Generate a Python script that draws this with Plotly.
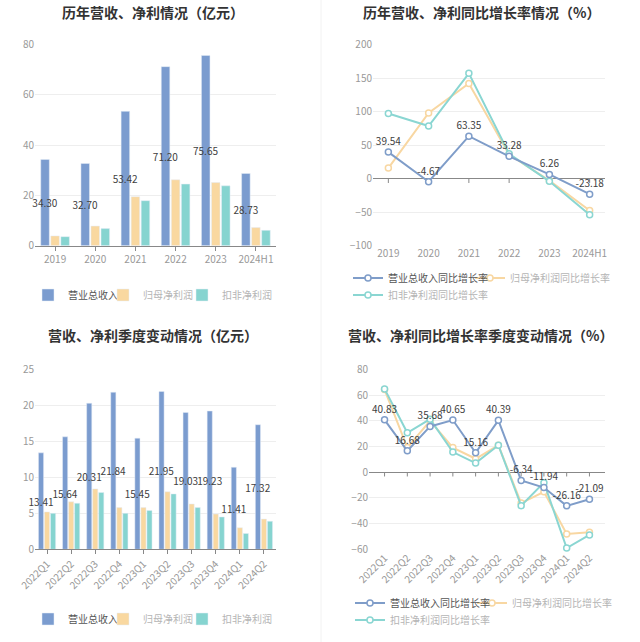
import plotly.graph_objects as go

# ---------------- data ----------------
years = ["2019", "2020", "2021", "2022", "2023", "2024H1"]
rev_year = [34.30, 32.70, 53.42, 71.20, 75.65, 28.73]
np_year = [3.9, 7.8, 19.5, 26.2, 25.1, 7.2]
nnp_year = [3.6, 6.8, 17.9, 24.5, 23.8, 6.1]

rev_yoy = [39.54, -4.67, 63.35, 33.28, 6.26, -23.18]
np_yoy = [15.7, 98.0, 142.0, 36.0, -3.0, -47.5]
nnp_yoy = [97.0, 78.5, 157.0, 37.0, -4.0, -54.0]

quarters = ["2022Q1", "2022Q2", "2022Q3", "2022Q4", "2023Q1",
            "2023Q2", "2023Q3", "2023Q4", "2024Q1", "2024Q2"]
rev_q = [13.41, 15.64, 20.31, 21.84, 15.45, 21.95, 19.03, 19.23, 11.41, 17.32]
np_q = [5.2, 6.6, 8.4, 5.8, 5.8, 8.0, 6.3, 4.9, 3.0, 4.2]
nnp_q = [5.0, 6.4, 7.9, 5.0, 5.4, 7.7, 5.8, 4.5, 2.2, 3.9]

rev_q_yoy = [40.83, 16.68, 35.68, 40.65, 15.16, 40.39, -6.34, -11.94, -26.16, -21.09]
np_q_yoy = [64.4, 19.2, 40.0, 19.2, 10.5, 21.0, -24.0, -15.2, -48.0, -46.7]
nnp_q_yoy = [64.9, 30.7, 41.3, 15.7, 7.1, 21.0, -26.0, -8.1, -59.0, -48.8]

titles = ["历年营收、净利情况（亿元）", "历年营收、净利同比增长率情况（%）",
          "营收、净利季度变动情况（亿元）", "营收、净利同比增长率季度变动情况（%）"]
bar_names = ["营业总收入", "归母净利润", "扣非净利润"]
line_names = ["营业总收入同比增长率", "归母净利润同比增长率", "扣非净利润同比增长率"]

# ---------------- style ----------------
FONT = "Noto Sans CJK SC"
C_REV = "#7b9ccf"
C_NP = "#f9d8a0"
C_NNP = "#86d4d0"
L_REV = "#7f9dc9"
L_NP = "#f8d7a2"
L_NNP = "#8ad6d2"
TXT = "#404040"
TICK = "#999999"
GRID = "#eeeeee"
AXIS = "#888888"
W, H = 640, 642


def px_x(p):
    return p / W


def px_y(p):
    return 1 - p / H


def leg_name(name, first):
    col = "#555555" if first else "#b5b5b5"
    return f"<span style='color:{col}'>{name}</span>"


fig = go.Figure()

bar_text = dict(texttemplate="%{y:.2f}", textposition="inside", insidetextanchor="middle",
                constraintext="none", textangle=0, cliponaxis=False,
                textfont=dict(family=FONT, color=TXT, size=10))

# ---------- panel 1: yearly bars ----------
fig.add_trace(go.Bar(x=years, y=rev_year, name=leg_name(bar_names[0], True), marker_color=C_REV,
                     xaxis="x", yaxis="y", legend="legend", **bar_text))
fig.add_trace(go.Bar(x=years, y=np_year, name=leg_name(bar_names[1], False), marker_color=C_NP,
                     xaxis="x", yaxis="y", legend="legend2"))
fig.add_trace(go.Bar(x=years, y=nnp_year, name=leg_name(bar_names[2], False), marker_color=C_NNP,
                     xaxis="x", yaxis="y", legend="legend3"))

# ---------- panel 3: quarterly bars ----------
fig.add_trace(go.Bar(x=quarters, y=rev_q, name=leg_name(bar_names[0], True), marker_color=C_REV,
                     xaxis="x3", yaxis="y3", legend="legend7", **bar_text))
fig.add_trace(go.Bar(x=quarters, y=np_q, name=leg_name(bar_names[1], False), marker_color=C_NP,
                     xaxis="x3", yaxis="y3", legend="legend8"))
fig.add_trace(go.Bar(x=quarters, y=nnp_q, name=leg_name(bar_names[2], False), marker_color=C_NNP,
                     xaxis="x3", yaxis="y3", legend="legend9"))


def line(x, y, name, color, xa, ya, leg, label=False):
    return go.Scatter(
        x=x, y=y, name=name, xaxis=xa, yaxis=ya, legend=leg,
        mode="lines+markers+text" if label else "lines+markers",
        texttemplate="%{y:.2f}" if label else None,
        textposition="top center", textfont=dict(family=FONT, color=TXT, size=10),
        line=dict(color=color, width=2),
        marker=dict(symbol="circle", size=6, color="white", line=dict(color=color, width=1.5)),
        cliponaxis=False,
    )


# ---------- panel 2: yearly growth ----------
fig.add_trace(line(years, np_yoy, leg_name(line_names[1], False), L_NP, "x2", "y2", "legend5"))
fig.add_trace(line(years, nnp_yoy, leg_name(line_names[2], False), L_NNP, "x2", "y2", "legend6"))
fig.add_trace(line(years, rev_yoy, leg_name(line_names[0], True), L_REV, "x2", "y2", "legend4", True))

# ---------- panel 4: quarterly growth ----------
fig.add_trace(line(quarters, np_q_yoy, leg_name(line_names[1], False), L_NP, "x4", "y4", "legend11"))
fig.add_trace(line(quarters, nnp_q_yoy, leg_name(line_names[2], False), L_NNP, "x4", "y4", "legend12"))
fig.add_trace(line(quarters, rev_q_yoy, leg_name(line_names[0], True), L_REV, "x4", "y4", "legend10", True))

tickfont = dict(family=FONT, size=10, color=TICK)

bar_x = dict(type="category", showgrid=False, showline=True, linecolor=AXIS, linewidth=1,
             ticks="outside", ticklen=4, tickcolor=AXIS, tickfont=tickfont, fixedrange=True,
             automargin=False)
line_x = dict(type="category", showgrid=False, showline=False, ticks="", tickfont=tickfont,
              fixedrange=True, automargin=False)
y_common = dict(showgrid=True, gridcolor=GRID, gridwidth=1, showline=False, ticks="",
                tickfont=tickfont, fixedrange=True, automargin=False)

TOP = [px_y(245.7), px_y(44.5)]
BOT = [px_y(549.3), px_y(369.5)]

legend_common = dict(orientation="h", bgcolor="rgba(0,0,0,0)", font=dict(family=FONT, size=10),
                     yanchor="middle", xanchor="left", itemclick=False, itemdoubleclick=False)

# legend positions: (text start x, centre y) in pixels
legend_pos = {
    "legend": (68, 295), "legend2": (143, 295), "legend3": (222, 295),
    "legend4": (388, 278), "legend5": (510, 278), "legend6": (388, 295),
    "legend7": (68, 619), "legend8": (143, 619), "legend9": (222, 619),
    "legend10": (390, 603), "legend11": (512, 603), "legend12": (390, 620),
}
legends = {k: dict(x=px_x(tx - 40), y=px_y(ty), **legend_common) for k, (tx, ty) in legend_pos.items()}

fig.update_layout(
    width=W, height=H, autosize=False,
    margin=dict(l=0, r=0, t=0, b=0, autoexpand=False),
    paper_bgcolor="white", plot_bgcolor="white",
    font=dict(family=FONT, color=TXT),
    barmode="group", bargap=0.25, bargroupgap=0.15,
    xaxis=dict(domain=[px_x(35), px_x(276)], anchor="y", **bar_x),
    yaxis=dict(domain=TOP, anchor="x", range=[0, 80], dtick=20, zeroline=False, **y_common),
    xaxis2=dict(domain=[px_x(373), px_x(605)], anchor="y2", **line_x),
    yaxis2=dict(domain=TOP, anchor="x2", range=[-100, 200], dtick=50, zeroline=True,
                zerolinecolor=AXIS, zerolinewidth=1, **y_common),
    xaxis3=dict(domain=[px_x(35), px_x(276)], anchor="y3", tickangle=-45, **bar_x),
    yaxis3=dict(domain=BOT, anchor="x3", range=[0, 25], dtick=5, zeroline=False, **y_common),
    xaxis4=dict(domain=[px_x(369), px_x(605)], anchor="y4", tickangle=-45, **line_x),
    yaxis4=dict(domain=BOT, anchor="x4", range=[-60, 80], dtick=20, zeroline=True,
                zerolinecolor=AXIS, zerolinewidth=1, **y_common),
    showlegend=True,
    hovermode=False,
    **legends,
)

# titles
for (tx, ty), t in zip([(153, 12), (481, 12), (153, 335), (480, 335)], titles):
    fig.add_annotation(text=t, x=px_x(tx), y=px_y(ty), xref="paper", yref="paper",
                       xanchor="center", yanchor="middle", showarrow=False,
                       font=dict(family=FONT, size=14, color="#333333", weight="bold"))

# small ticks under the zero line of the growth charts
for xa, ya, cats, depth in [("x2", "y2", years, 6.5), ("x4", "y4", quarters, 3.3)]:
    for i in range(len(cats)):
        fig.add_shape(type="line", xref=xa, yref=ya, x0=i, x1=i, y0=0, y1=-depth,
                      line=dict(color=AXIS, width=1), layer="below")

# panel divider
fig.add_shape(type="line", xref="paper", yref="paper", x0=px_x(321), x1=px_x(321), y0=0, y1=1,
              line=dict(color="#f2f2f2", width=1))

fig.write_html("out.html", config={"displayModeBar": False},
               post_script="document.body.style.margin='0';document.body.style.overflow='hidden';")
